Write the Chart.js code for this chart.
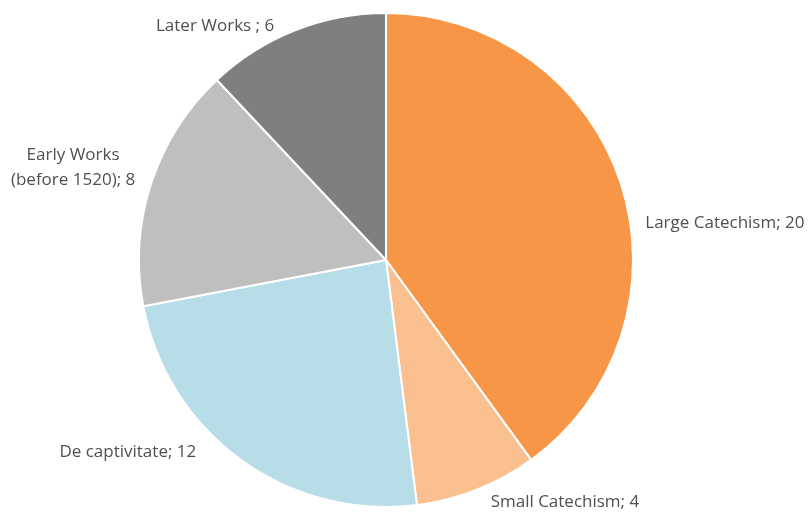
<!DOCTYPE html>
<html>
<head>
<meta charset="utf-8">
<script src="https://cdn.jsdelivr.net/npm/chart.js@4"></script>
<style>
  html, body { margin: 0; padding: 0; background: #fff; }
  #wrap { width: 809px; height: 513px; }
</style>
</head>
<body>
<div id="wrap"><canvas id="pieChart" width="809" height="513"></canvas></div>
<script>
const categories = ['Large Catechism', 'Small Catechism', 'De captivitate', 'Early Works (before 1520)', 'Later Works '];
const labelLines = [['Large Catechism; 20'], ['Small Catechism; 4'], ['De captivitate; 12'], ['Early Works', '(before 1520); 8'], ['Later Works ; 6']];
const values = [20, 4, 12, 8, 6];
const colors = ['#F79646', '#FAC090', '#B7DEE8', '#BFBFBF', '#7F7F7F'];

// label centre relative to the slice's outer mid-point
const labelNudge = [[104, 39], [88, 13], [-113, -8], [-78, -16], [-80, -4]];

const outsideLabels = {
    id: 'outsideLabels',
    afterDraw(chart) {
        const ctx = chart.ctx;
        const arcs = chart.getDatasetMeta(0).data;
        ctx.save();
        ctx.font = '17px "Open Sans"';
        ctx.fillStyle = '#505050';
        ctx.textAlign = 'center';
        ctx.textBaseline = 'middle';
        arcs.forEach((arc, i) => {
            const mid = (arc.startAngle + arc.endAngle) / 2;
            const cx = arc.x + Math.cos(mid) * arc.outerRadius + labelNudge[i][0];
            const cy = arc.y + Math.sin(mid) * arc.outerRadius + labelNudge[i][1];
            const lines = labelLines[i];
            lines.forEach((l, k) => {
                ctx.fillText(l, cx, cy + (k - (lines.length - 1) / 2) * 25);
            });
        });
        ctx.restore();
    }
};

new Chart(document.getElementById('pieChart'), {
    type: 'pie',
    data: {
        labels: categories,
        datasets: [{
            data: values,
            backgroundColor: colors,
            borderColor: '#ffffff',
            borderWidth: 2
        }]
    },
    options: {
        responsive: false,
        animation: false,
        layout: { padding: { left: 138, right: 175, top: 12, bottom: 5 } },
        plugins: {
            legend: { display: false },
            tooltip: { enabled: false }
        }
    },
    plugins: [outsideLabels]
});
</script>
</body>
</html>
